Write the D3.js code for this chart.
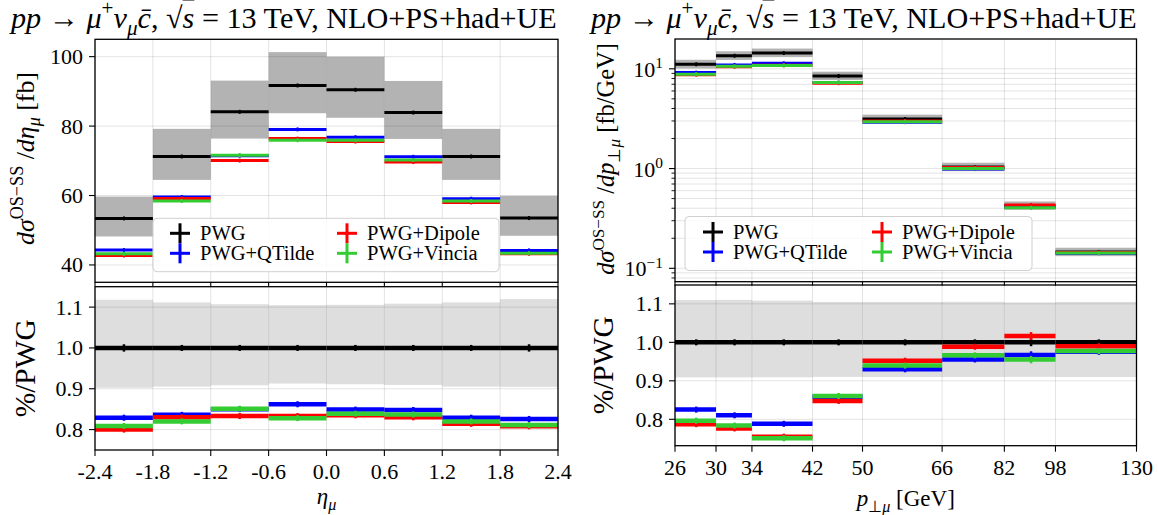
<!DOCTYPE html>
<html><head><meta charset="utf-8">
<script src="https://cdn.jsdelivr.net/npm/d3@7"></script>
<style>
body{margin:0;background:#fff}
svg{display:block}
text{font-family:"Liberation Serif","Times New Roman",serif;fill:#000}
</style>
</head><body>
<svg id="c" width="1158" height="515"></svg>
<script>
// ---------------- data ----------------
const seriesNames = ["PWG", "PWG+QTilde", "PWG+Dipole", "PWG+Vincia"];
const seriesColors = ["#000000", "#0000ff", "#ff0000", "#33cc33"];

// eta_mu distribution [fb]
const etaEdges = [-2.4, -1.8, -1.2, -0.6, 0.0, 0.6, 1.2, 1.8, 2.4];
const etaTickLabels = ["-2.4", "-1.8", "-1.2", "-0.6", "0.0", "0.6", "1.2", "1.8", "2.4"];
const etaPWG    = [53.4, 71.25, 84.1, 91.7, 90.45, 83.9, 71.25, 53.5];
const etaPWGHi  = [59.7, 79.2, 93.1, 101.3, 100.0, 93.0, 79.2, 59.9];
const etaPWGLo  = [48.2, 64.5, 76.4, 83.7, 82.4, 76.3, 64.5, 48.4];
const etaQTilde = [44.27, 59.57, 71.49, 79.05, 76.79, 71.15, 59.07, 44.19];
const etaDipole = [42.72, 59.14, 70.06, 76.39, 75.53, 69.64, 58.00, 43.23];
const etaVincia = [43.20, 58.43, 71.57, 75.93, 75.89, 70.22, 58.43, 43.39];
const etaStat   = [0.009, 0.007, 0.006, 0.006, 0.006, 0.006, 0.007, 0.009];
const etaYTicks = [40, 60, 80, 100];

// pT_mu distribution [fb/GeV]
const ptEdges = [26, 30, 34, 42, 50, 66, 82, 98, 130];
const ptTickLabels = ["26", "30", "34", "42", "50", "66", "82", "98", "130"];
const ptPWG    = [11.1, 13.5, 14.4, 8.47, 3.14, 1.035, 0.424, 0.1455];
const ptPWGHi  = [12.32, 14.99, 15.96, 9.36, 3.47, 1.144, 0.468, 0.1608];
const ptPWGLo  = [10.09, 12.27, 13.09, 7.71, 2.857, 0.942, 0.386, 0.1324];
const ptQTilde = [9.16, 10.94, 11.35, 7.27, 2.92, 0.989, 0.410, 0.1419];
const ptDipole = [8.74, 10.48, 10.87, 7.18, 2.99, 1.023, 0.431, 0.1440];
const ptVincia = [8.84, 10.58, 10.81, 7.29, 2.95, 1.000, 0.405, 0.1422];
const ptStat   = [0.007, 0.006, 0.005, 0.005, 0.005, 0.007, 0.010, 0.007];
const ptYTicks = [0.1, 1, 10];
const ptYTickExp = ["−1", "0", "1"];

const ratioTicks = [0.8, 0.9, 1.0, 1.1];
const ratioTickLabels = ["0.8", "0.9", "1.0", "1.1"];

// ---------------- helpers ----------------
const svg = d3.select("#c");
const GRID = "rgba(0,0,0,0.11)";

function rich(parent, parts, size) {
  const t = parent.append("text").attr("font-size", size);
  let cur = 0;
  parts.forEach(([str, st = ""]) => {
    const f = st.split(" ");
    const sup = f.includes("sup"), sub = f.includes("sub");
    const shift = sup ? -0.40 * size : sub ? 0.24 * size : 0;
    const ts = t.append("tspan").text(str);
    if (shift - cur !== 0) ts.attr("dy", shift - cur);
    cur = shift;
    if (f.includes("it")) ts.attr("font-style", "italic");
    if (sup || sub) ts.attr("font-size", size * 0.7);
    if (f.includes("ol")) ts.style("text-decoration", "overline");
  });
  return t;
}
function richFit(parent, parts, size0, target) {
  const t0 = rich(parent, parts, size0);
  const w = t0.node().getComputedTextLength();
  t0.remove();
  return rich(parent, parts, size0 * target / w);
}

function drawPanels(cfg) {
  const { x, yT, yB, edges, tickLabels, pwg, hi, lo, others, stat, isLog } = cfg;
  const series = [pwg].concat(others);
  const [x0, x1] = x.range();
  const xt = edges;
  const g = svg.append("g");

  // ---------- upper panel ----------
  const [tb, tt] = yT.range();
  g.append("g").selectAll("rect").data(pwg).join("rect")
    .attr("x", (d, i) => x(edges[i])).attr("width", (d, i) => x(edges[i + 1]) - x(edges[i]))
    .attr("y", (d, i) => yT(hi[i])).attr("height", (d, i) => yT(lo[i]) - yT(hi[i]))
    .attr("fill", "#b3b3b3");
  const gy = isLog ? cfg.topGrid : cfg.topTicks;
  g.append("g").selectAll("line").data(gy).join("line")
    .attr("x1", x0).attr("x2", x1).attr("y1", d => yT(d)).attr("y2", d => yT(d))
    .attr("stroke", GRID).attr("stroke-width", 1);
  g.append("g").selectAll("line").data(xt).join("line")
    .attr("x1", d => x(d)).attr("x2", d => x(d)).attr("y1", tt).attr("y2", tb)
    .attr("stroke", GRID).attr("stroke-width", 1);
  series.forEach((vals, k) => {
    const sg = g.append("g");
    sg.selectAll("line.h").data(vals).join("line").attr("class", "h")
      .attr("x1", (d, i) => x(edges[i])).attr("x2", (d, i) => x(edges[i + 1]))
      .attr("y1", d => yT(d)).attr("y2", d => yT(d))
      .attr("stroke", seriesColors[k]).attr("stroke-width", 3);
    sg.selectAll("line.e").data(vals).join("line").attr("class", "e")
      .attr("x1", (d, i) => x((edges[i] + edges[i + 1]) / 2)).attr("x2", (d, i) => x((edges[i] + edges[i + 1]) / 2))
      .attr("y1", (d, i) => Math.min(yT(d * (1 + stat[i])), yT(d) - 2))
      .attr("y2", (d, i) => Math.max(yT(d * (1 - stat[i])), yT(d) + 2))
      .attr("stroke", seriesColors[k]).attr("stroke-width", 2);
  });
  g.append("rect").attr("x", x0).attr("y", tt).attr("width", x1 - x0).attr("height", tb - tt)
    .attr("fill", "none").attr("stroke", "#000").attr("stroke-width", 1.3);
  g.append("g").selectAll("line").data(xt).join("line")
    .attr("x1", d => x(d)).attr("x2", d => x(d)).attr("y1", tb).attr("y2", tb + 4)
    .attr("stroke", "#000").attr("stroke-width", 1.1);
  g.append("g").selectAll("line").data(cfg.topTicks).join("line")
    .attr("x1", x0 - 6).attr("x2", x0).attr("y1", d => yT(d)).attr("y2", d => yT(d))
    .attr("stroke", "#000").attr("stroke-width", 1.1);
  if (isLog) {
    g.append("g").selectAll("line").data(cfg.topGrid.filter(v => !cfg.topTicks.includes(v))).join("line")
      .attr("x1", x0 - 3.5).attr("x2", x0).attr("y1", d => yT(d)).attr("y2", d => yT(d))
      .attr("stroke", "#000").attr("stroke-width", 0.9);
    cfg.topTicks.forEach((v, i) => {
      const t = rich(g, [["10", ""], [cfg.topExp[i], "sup"]], 22);
      t.attr("x", x0 - 12).attr("y", yT(v) + 8).attr("text-anchor", "end");
    });
  } else {
    g.append("g").selectAll("text").data(cfg.topTicks).join("text")
      .attr("x", x0 - 12).attr("y", d => yT(d) + 7.5).attr("text-anchor", "end")
      .attr("font-size", 22).text(d => d);
  }

  // ---------- lower panel ----------
  const [bb, bt] = yB.range();
  g.append("g").selectAll("rect").data(pwg).join("rect")
    .attr("x", (d, i) => x(edges[i])).attr("width", (d, i) => x(edges[i + 1]) - x(edges[i]))
    .attr("y", (d, i) => yB(hi[i] / d)).attr("height", (d, i) => yB(lo[i] / d) - yB(hi[i] / d))
    .attr("fill", "#dedede");
  g.append("g").selectAll("line").data(ratioTicks).join("line")
    .attr("x1", x0).attr("x2", x1).attr("y1", d => yB(d)).attr("y2", d => yB(d))
    .attr("stroke", GRID).attr("stroke-width", 1);
  g.append("g").selectAll("line").data(xt).join("line")
    .attr("x1", d => x(d)).attr("x2", d => x(d)).attr("y1", bt).attr("y2", bb)
    .attr("stroke", GRID).attr("stroke-width", 1);
  series.forEach((vals, k) => {
    const r = vals.map((v, i) => v / pwg[i]);
    const sg = g.append("g");
    sg.selectAll("line.h").data(r).join("line").attr("class", "h")
      .attr("x1", (d, i) => x(edges[i])).attr("x2", (d, i) => x(edges[i + 1]))
      .attr("y1", d => yB(d)).attr("y2", d => yB(d))
      .attr("stroke", seriesColors[k]).attr("stroke-width", 4.5);
    sg.selectAll("line.e").data(r).join("line").attr("class", "e")
      .attr("x1", (d, i) => x((edges[i] + edges[i + 1]) / 2)).attr("x2", (d, i) => x((edges[i] + edges[i + 1]) / 2))
      .attr("y1", (d, i) => Math.min(yB(d * (1 + stat[i])), yB(d) - 3))
      .attr("y2", (d, i) => Math.max(yB(d * (1 - stat[i])), yB(d) + 3))
      .attr("stroke", seriesColors[k]).attr("stroke-width", 2.5);
  });
  g.append("rect").attr("x", x0).attr("y", bt).attr("width", x1 - x0).attr("height", bb - bt)
    .attr("fill", "none").attr("stroke", "#000").attr("stroke-width", 1.3);
  g.append("g").selectAll("line").data(xt).join("line")
    .attr("x1", d => x(d)).attr("x2", d => x(d)).attr("y1", bb).attr("y2", bb + 6)
    .attr("stroke", "#000").attr("stroke-width", 1.1);
  g.append("g").selectAll("text").data(xt).join("text")
    .attr("x", d => x(d)).attr("y", bb + 29).attr("text-anchor", "middle")
    .attr("font-size", 22).text((d, i) => tickLabels[i]);
  g.append("g").selectAll("line").data(ratioTicks).join("line")
    .attr("x1", x0 - 6).attr("x2", x0).attr("y1", d => yB(d)).attr("y2", d => yB(d))
    .attr("stroke", "#000").attr("stroke-width", 1.1);
  g.append("g").selectAll("text").data(ratioTicks).join("text")
    .attr("x", x0 - 12).attr("y", d => yB(d) + 7.5).attr("text-anchor", "end")
    .attr("font-size", 22).text((d, i) => ratioTickLabels[i]);

  // ---------- legend ----------
  const L = cfg.legend;
  g.append("rect").attr("x", L.x0).attr("y", L.y0).attr("width", L.x1 - L.x0).attr("height", L.y1 - L.y0)
    .attr("rx", 4).attr("fill", "rgba(255,255,255,0.82)").attr("stroke", "#d0d0d0").attr("stroke-width", 1);
  const pos = [[L.cx[0], L.ry[0]], [L.cx[0], L.ry[1]], [L.cx[1], L.ry[0]], [L.cx[1], L.ry[1]]];
  seriesNames.forEach((name, k) => {
    const [mx, my] = pos[k];
    g.append("line").attr("x1", mx - 10).attr("x2", mx + 10).attr("y1", my).attr("y2", my)
      .attr("stroke", seriesColors[k]).attr("stroke-width", 3);
    g.append("line").attr("x1", mx).attr("x2", mx).attr("y1", my - 10).attr("y2", my + 10)
      .attr("stroke", seriesColors[k]).attr("stroke-width", 3);
    g.append("text").attr("x", mx + 20).attr("y", my + 6.5).attr("font-size", 20.5).text(name);
  });

  // ---------- titles & labels ----------
  const title = [["pp", "it"], [" → ", ""], ["μ", "it"], ["+", "sup"], ["ν", "it"], ["μ", "it sub"], ["c\u0304", "it"],
                 [", ", ""], ["√", ""], ["s", "it ol"], [" = 13 TeV, NLO+PS+had+UE", ""]];
  richFit(g, title, 21, cfg.titleW).attr("x", cfg.titleX).attr("y", 27.5);

  richFit(g, cfg.yLabel, 24, cfg.yLabelLen)
    .attr("text-anchor", "middle")
    .attr("transform", `translate(${cfg.yLabelX},${cfg.yLabelY}) rotate(-90)`);
  richFit(g, [["%/PWG", ""]], 24, 98)
    .attr("text-anchor", "middle")
    .attr("transform", `translate(${cfg.rLabelX},${(bb + bt) / 2}) rotate(-90)`);
  rich(g, cfg.xLabel, 23).attr("text-anchor", "middle")
    .attr("x", (x0 + x1) / 2).attr("y", cfg.xLabelY);
}

// ---------------- left panel: eta ----------------
drawPanels({
  x: d3.scaleLinear().domain([-2.4, 2.4]).range([95, 558]),
  yT: d3.scaleLinear().domain([35, 105]).range([282.3, 39.3]),
  yB: d3.scaleLinear().domain([0.75, 1.15]).range([450, 286.7]),
  edges: etaEdges, tickLabels: etaTickLabels,
  pwg: etaPWG, hi: etaPWGHi, lo: etaPWGLo,
  others: [etaQTilde, etaDipole, etaVincia], stat: etaStat,
  isLog: false, topTicks: etaYTicks,
  legend: { x0: 153, x1: 499, y0: 218.3, y1: 271.7, cx: [180, 347], ry: [233.3, 253.3] },
  titleX: 11, titleW: 546,
  yLabel: [["d", "it"], ["σ", "it"], ["OS−SS", "sup"], [" /", ""], ["d", "it"], ["η", "it"], ["μ", "it sub"], ["  [fb]", ""]],
  yLabelLen: 173, yLabelX: 33.5, yLabelY: 158.5, rLabelX: 35,
  xLabel: [["η", "it"], ["μ", "it sub"]], xLabelY: 504
});

// ---------------- right panel: pT ----------------
const ptMinor = [];
[0.01, 0.1, 1, 10].forEach(dec => { for (let m = 1; m <= 9; m++) { const v = +(m * dec).toPrecision(3); if (v >= 0.074 && v <= 19.9) ptMinor.push(v); } });
drawPanels({
  x: d3.scaleLog().domain([26, 130]).range([675, 1136.5]),
  yT: d3.scaleLog().domain([0.0734, 19.9]).range([281.7, 39]),
  yB: d3.scaleLinear().domain([0.7314, 1.149]).range([445.7, 285]),
  edges: ptEdges, tickLabels: ptTickLabels,
  pwg: ptPWG, hi: ptPWGHi, lo: ptPWGLo,
  others: [ptQTilde, ptDipole, ptVincia], stat: ptStat,
  isLog: true, topTicks: ptYTicks, topExp: ptYTickExp, topGrid: ptMinor,
  legend: { x0: 685, x1: 1032, y0: 216.5, y1: 270.5, cx: [713, 882], ry: [232, 252] },
  titleX: 591, titleW: 546,
  yLabel: [["d", "it"], ["σ", "it"], ["OS−SS", "sup"], [" /", ""], ["d", "it"], ["p", "it"], ["⊥", "sub"], ["μ", "it sub"], ["  [fb/GeV]", ""]],
  yLabelLen: 232, yLabelX: 614, yLabelY: 159, rLabelX: 613,
  xLabel: [["p", "it"], ["⊥", "sub"], ["μ", "it sub"], ["  [GeV]", ""]], xLabelY: 506
});
</script>
</body></html>
